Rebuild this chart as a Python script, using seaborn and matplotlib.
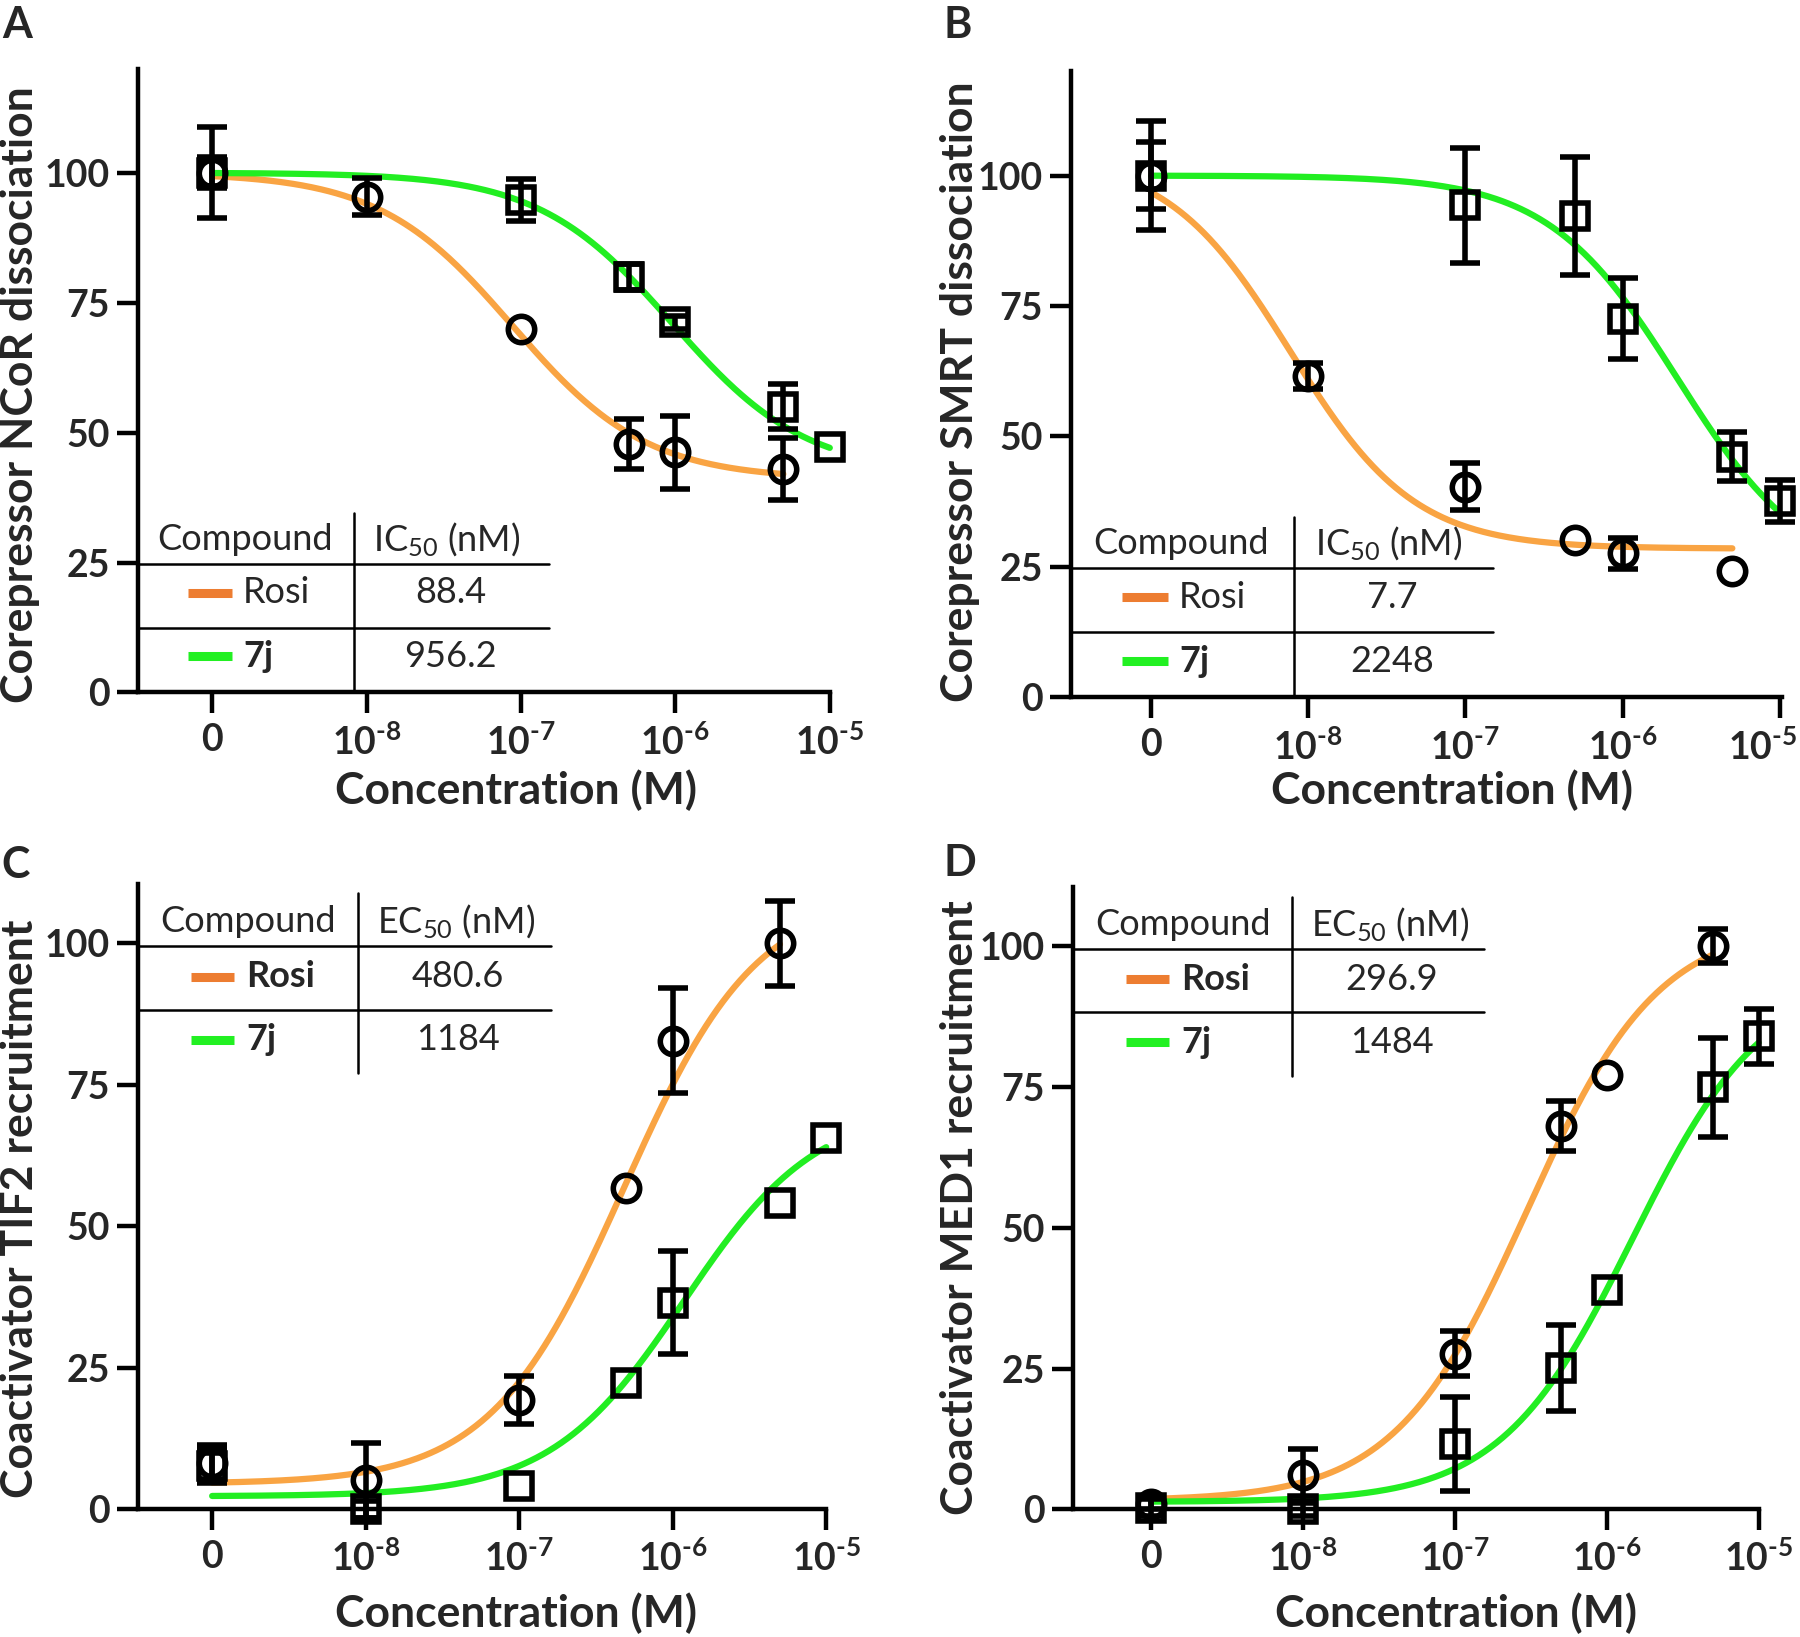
import numpy as np
import pandas as pd
import matplotlib
matplotlib.use("Agg")
import matplotlib.pyplot as plt
import seaborn as sns

# ---------------- data ----------------
conc = [0, 1e-8, 1e-7, 5e-7, 1e-6, 5e-6, 1e-5]          # M (0 = vehicle)
tick_pos_conc = [0, 1e-8, 1e-7, 1e-6, 1e-5]
tick_labels = ["0", r"$10^{\text{-}8}$", r"$10^{\text{-}7}$",
               r"$10^{\text{-}6}$", r"$10^{\text{-}5}$"]
nan = np.nan

# Panel A  - NCoR dissociation
a_rosi = [100, 95.4, 70.0, 47.8, 46.2, 43.0, nan]
a_rosi_err = [8.7, 3.5, 0, 4.8, 7.0, 6.0, nan]
a_7j = [100, nan, 94.7, 80.0, 71.2, 55.0, 47.3]
a_7j_err = [3.0, nan, 4.0, 2.5, 1.2, 4.3, 0]
a_ic50 = ["88.4", "956.2"]

# Panel B  - SMRT dissociation
b_rosi = [100, 61.6, 40.4, 30.2, 27.6, 24.3, nan]
b_rosi_err = [6.5, 2.5, 4.5, 0, 3.0, 0, nan]
b_7j = [100, nan, 94.3, 92.3, 72.6, 46.1, 37.7]
b_7j_err = [10.5, nan, 11.0, 11.3, 7.7, 4.7, 4.0]
b_ic50 = ["7.7", "2248"]

# Panel C  - TIF2 recruitment
c_rosi = [8.1, 5.1, 19.3, 56.8, 82.8, 100.0, nan]
c_rosi_err = [3.2, 6.7, 4.3, 0, 9.3, 7.5, nan]
c_7j = [7.7, 0.0, 4.1, 22.3, 36.5, 54.2, 65.7]
c_7j_err = [3.0, 1.5, 0, 0, 9.1, 0, 0]
c_ec50 = ["480.6", "1184"]

# Panel D  - MED1 recruitment
d_rosi = [1.0, 6.1, 27.6, 68.1, 77.1, 100.0, nan]
d_rosi_err = [1.0, 4.7, 4.0, 4.5, 0, 3.0, nan]
d_7j = [0.3, 0.0, 11.6, 25.1, 38.9, 75.0, 84.0]
d_7j_err = [1.5, 1.2, 8.3, 7.6, 0, 8.8, 4.9]
d_ec50 = ["296.9", "1484"]

# fitted dose-response parameters: bottom, top, log EC50/IC50, hill
a_rosi_fit = (41.0, 100.0, np.log10(88.4e-9), -1.0)
a_7j_fit = (42.0, 100.0, np.log10(956.2e-9), -1.0)
b_rosi_fit = (28.5, 104.0, np.log10(7.7e-9), -1.1)
b_7j_fit = (22.0, 100.0, np.log10(2248e-9), -1.05)
c_rosi_fit = (4.5, 109.0, np.log10(480.6e-9), 1.0)
c_7j_fit = (2.3, 71.3, np.log10(1184e-9), 1.0)
d_rosi_fit = (1.5, 104.3, np.log10(296.9e-9), 1.0)
d_7j_fit = (1.3, 95.0, np.log10(1484e-9), 1.0)

# ---------------- style ----------------
sns.set_theme(style="ticks")
plt.rcParams["font.family"] = ["Lato", "DejaVu Sans"]
plt.rcParams["mathtext.fontset"] = "custom"
plt.rcParams["mathtext.rm"] = "Lato:bold"
plt.rcParams["mathtext.bf"] = "Lato:bold"
plt.rcParams["mathtext.sf"] = "Lato"
plt.rcParams["mathtext.it"] = "Lato:italic"
plt.rcParams["mathtext.default"] = "rm"

ORANGE_CURVE = "#F9A443"
ORANGE_KEY = "#ED7D31"
GREEN = "#22EE22"
GREEN_KEY = "#22F022"


def xpos(c):
    # vehicle (0) plotted one decade below 1e-8
    return np.log10(c) if c > 0 else -9.0


def dose_response(x, p):
    b, t, logec, h = p
    return b + (t - b) / (1 + 10 ** ((logec - x) * h))


fig = plt.figure(figsize=(18, 16.37), dpi=100)

panels = [
    dict(pos=[0.0765, 0.577, 0.3845, 0.381], xlim=(-9.483, -5.0), ylim=(0, 120),
         rosi=a_rosi, rosi_err=a_rosi_err, j=a_7j, j_err=a_7j_err,
         rfit=a_rosi_fit, jfit=a_7j_fit, vals=a_ic50, head=r"IC$_{\mathsf{50}}$ (nM)",
         ylabel="Corepressor NCoR dissociation", table="bottom", bold_rosi=False,
         letter="A", letter_xy=(0.001, 0.997), ylab_xy=(0.0112, 0.759),
         xlab_xy=(0.2864, 0.5175), edge_label=False),
    dict(pos=[0.595, 0.574, 0.395, 0.3825], xlim=(-9.51, -4.985), ylim=(0, 120),
         rosi=b_rosi, rosi_err=b_rosi_err, j=b_7j, j_err=b_7j_err,
         rfit=b_rosi_fit, jfit=b_7j_fit, vals=b_ic50, head=r"IC$_{\mathsf{50}}$ (nM)",
         ylabel="Corepressor SMRT dissociation", table="bottom", bold_rosi=False,
         letter="B", letter_xy=(0.524, 0.997), ylab_xy=(0.5335, 0.761),
         xlab_xy=(0.8068, 0.5175), edge_label=True),
    dict(pos=[0.0765, 0.078, 0.3825, 0.382], xlim=(-9.485, -5.0), ylim=(0, 110.5),
         rosi=c_rosi, rosi_err=c_rosi_err, j=c_7j, j_err=c_7j_err,
         rfit=c_rosi_fit, jfit=c_7j_fit, vals=c_ec50, head=r"EC$_{\mathsf{50}}$ (nM)",
         ylabel="Coactivator TIF2 recruitment", table="top", bold_rosi=True,
         letter="C", letter_xy=(0.001, 0.484), ylab_xy=(0.0112, 0.2616),
         xlab_xy=(0.2864, 0.0147), edge_label=False),
    dict(pos=[0.596, 0.078, 0.381, 0.380], xlim=(-9.515, -5.0), ylim=(0, 110.5),
         rosi=d_rosi, rosi_err=d_rosi_err, j=d_7j, j_err=d_7j_err,
         rfit=d_rosi_fit, jfit=d_7j_fit, vals=d_ec50, head=r"EC$_{\mathsf{50}}$ (nM)",
         ylabel="Coactivator MED1 recruitment", table="top", bold_rosi=True,
         letter="D", letter_xy=(0.524, 0.485), ylab_xy=(0.5335, 0.262),
         xlab_xy=(0.8087, 0.0147), edge_label=False),
]

TICK_FS = 27
LABEL_FS = 32
TABLE_FS = 26
TICK_LEN = 15
TICK_PAD_X = 7


def draw_points(ax, vals, errs, marker):
    xs = np.array([xpos(c) for c in conc])
    v = np.array(vals, dtype=float)
    e = np.array(errs, dtype=float)
    ok = ~np.isnan(v)
    eb = ok & ~np.isnan(e) & (e > 0)
    if eb.any():
        ax.errorbar(xs[eb], v[eb], yerr=e[eb], fmt="none", ecolor="black",
                    elinewidth=4.0, capsize=11, capthick=4.0, zorder=4,
                    clip_on=False)
    ax.plot(xs[ok], v[ok], ls="none", marker=marker, ms=19, mfc="none",
            mec="black", mew=4.0, zorder=5, clip_on=False)


def draw_curve(ax, p, x_end, color):
    xs = np.linspace(-9.0, x_end, 300)
    df = pd.DataFrame({"x": xs, "y": dose_response(xs, p)})
    sns.lineplot(data=df, x="x", y="y", ax=ax, color=color, lw=4.5,
                 zorder=3, clip_on=False)


def draw_table(ax, P):
    tr = ax.transAxes
    kw = dict(color="black", lw=1.8, transform=tr, clip_on=False, zorder=2)
    if P["table"] == "bottom":
        vx, vy0, vy1 = 0.313, 0.0, 0.288
        h1, h2, hx = 0.206, 0.104, 0.594
        hy, cx, ix = 0.245, 0.155, 0.447
        r1, r2 = 0.160, 0.058
        k0, k1, nx, valx = 0.072, 0.136, 0.152, 0.452
    else:
        vx, vy0, vy1 = 0.320, 0.697, 0.985
        h1, h2, hx = 0.901, 0.799, 0.60
        hy, cx, ix = 0.940, 0.160, 0.462
        r1, r2 = 0.852, 0.751
        k0, k1, nx, valx = 0.077, 0.140, 0.158, 0.465
    ax.plot([vx, vx], [vy0, vy1], **kw)
    ax.plot([0, hx], [h1, h1], **kw)
    ax.plot([0, hx], [h2, h2], **kw)
    ax.text(cx, hy, "Compound", transform=tr, ha="center", va="center",
            fontsize=TABLE_FS)
    ax.text(ix, hy, P["head"], transform=tr, ha="center", va="center",
            fontsize=TABLE_FS)
    ax.plot([k0, k1], [r1, r1], color=ORANGE_KEY, lw=6.5, transform=tr,
            solid_capstyle="butt")
    ax.plot([k0, k1], [r2, r2], color=GREEN_KEY, lw=6.5, transform=tr,
            solid_capstyle="butt")
    ax.text(nx, r1, "Rosi", transform=tr, ha="left", va="center",
            fontsize=TABLE_FS, fontweight="bold" if P["bold_rosi"] else "normal")
    ax.text(nx, r2, "7j", transform=tr, ha="left", va="center",
            fontsize=TABLE_FS, fontweight="bold")
    ax.text(valx, r1, P["vals"][0], transform=tr, ha="center", va="center",
            fontsize=TABLE_FS)
    ax.text(valx, r2, P["vals"][1], transform=tr, ha="center", va="center",
            fontsize=TABLE_FS)


for P in panels:
    ax = fig.add_axes(P["pos"])
    draw_curve(ax, P["rfit"], np.log10(5e-6), ORANGE_CURVE)
    draw_curve(ax, P["jfit"], np.log10(1e-5), GREEN)
    draw_points(ax, P["rosi"], P["rosi_err"], "o")
    draw_points(ax, P["j"], P["j_err"], "s")
    draw_table(ax, P)

    ax.set_xlim(*P["xlim"])
    ax.set_ylim(*P["ylim"])
    ax.set_xticks([xpos(c) for c in tick_pos_conc])
    labels = list(tick_labels)
    if P["edge_label"]:
        # last label sits at the figure's right edge: draw it right-aligned
        labels[-1] = ""
        ax.annotate(tick_labels[-1], xy=(xpos(tick_pos_conc[-1]), 0),
                    xycoords="data", xytext=(13, -(TICK_LEN + TICK_PAD_X)),
                    textcoords="offset points", ha="right", va="top",
                    fontsize=TICK_FS, fontweight="bold", annotation_clip=False)
    ax.set_xticklabels(labels)
    ax.set_yticks([0, 25, 50, 75, 100])
    ax.set_yticklabels(["0", "25", "50", "75", "100"])
    for lab in ax.get_xticklabels() + ax.get_yticklabels():
        lab.set_fontweight("bold")
        lab.set_fontsize(TICK_FS)
    ax.set_xlabel("")
    ax.set_ylabel("")
    for s in ["top", "right"]:
        ax.spines[s].set_visible(False)
    for s in ["left", "bottom"]:
        ax.spines[s].set_linewidth(3.2)
        ax.spines[s].set_color("black")
    ax.tick_params(axis="both", length=TICK_LEN, width=3.2, color="black",
                   direction="out", pad=5)
    ax.tick_params(axis="x", pad=TICK_PAD_X)
    ax.patch.set_alpha(0)

    fig.text(*P["ylab_xy"], P["ylabel"], rotation=90, ha="center", va="center",
             fontsize=LABEL_FS, fontweight="bold")
    fig.text(*P["xlab_xy"], "Concentration (M)", ha="center", va="center",
             fontsize=LABEL_FS, fontweight="bold")
    fig.text(*P["letter_xy"], P["letter"], ha="left", va="top",
             fontsize=31, fontweight="bold")

fig.savefig("out.png", dpi=100)
